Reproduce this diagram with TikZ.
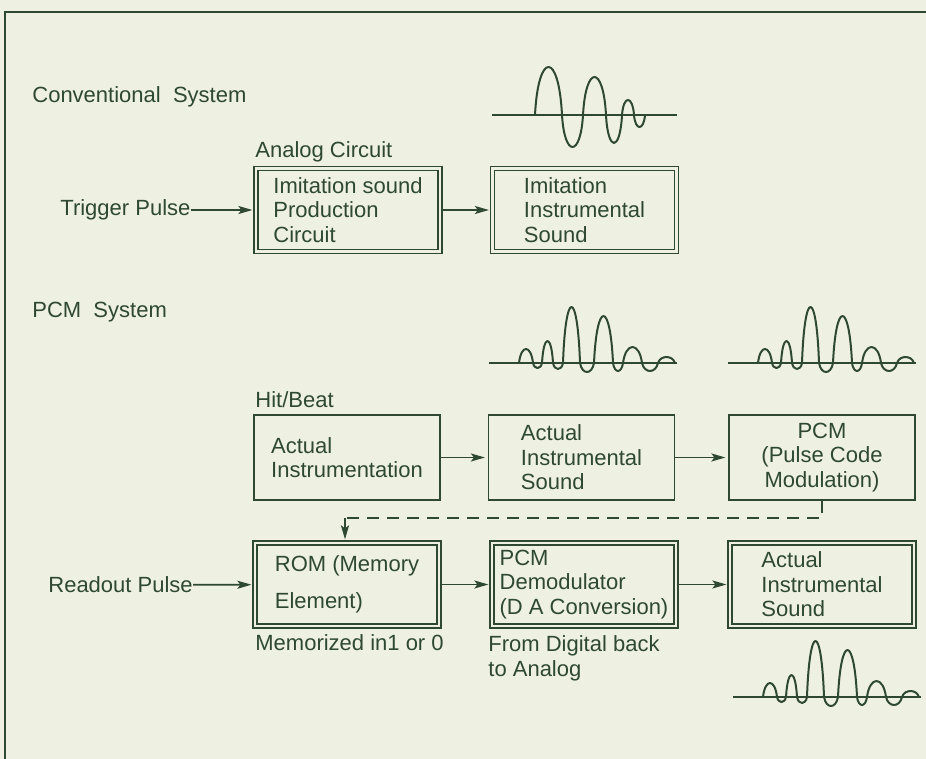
\documentclass[tikz,border=0pt]{standalone}
\usepackage{fontspec}
\setmainfont{Liberation Sans}
\usepackage{xcolor}
\usetikzlibrary{positioning,arrows.meta}
\definecolor{ink}{HTML}{2E4832}
\definecolor{paper}{HTML}{EEF1E1}

\tikzset{
	lbl/.style={anchor=west,inner sep=0pt,text=ink,font=\fontsize{11}{12.5}\selectfont},
	blk/.style={draw=ink,line width=0.6pt,minimum width=93pt,minimum height=42.5pt,
		inner sep=3pt,align=left,text=ink,font=\fontsize{11}{12.2}\selectfont},
	dblk/.style={blk,double=paper,double distance=1.4pt,minimum width=92pt,minimum height=41.5pt},
	flow/.style={draw=ink,line width=0.9pt,-{Stealth[length=7pt,width=4pt,inset=1.5pt]},shorten >=1.5pt},
	dashline/.style={draw=ink,line width=1.1pt,dash pattern=on 6pt off 4pt},
	wave/.style={draw=ink,line width=1pt,line join=round},
	pcm wave/.pic={
		\draw[ink,line width=0.7pt] (0,0) -- (188,0);
		\draw[wave] (30,0)
			\foreach \a/\b/\h in {30/44/-14,44/53/5,53/64/-22,64/74/6,74/91/-56,91/105/9,
				105/124/-47,124/134/8,134/153/-16,153/169/8,169/186/-6}
			{ .. controls ({\a+0.15*(\b-\a)},{1.333*\h}) and ({\b-0.15*(\b-\a)},{1.333*\h}) .. (\b,0) };
	}
}

\begin{document}
\begin{tikzpicture}[x=0.5pt,y=-0.5pt]
	\fill[paper] (0,0) rectangle (926,759);
	\useasboundingbox (0,0) rectangle (926,759);
	% frame
	\draw[ink,line width=1.4pt] (5,759) -- (5,12) -- (926,12);

	% conventional system
	\node[lbl] (conv) at (32,97) {Conventional\ \ System};
	\node[lbl] (analog) at (255,152) {Analog Circuit};
	\node[dblk] (imit) at (348,210) {Imitation sound\\Production\\Circuit};
	\node[dblk] (imitsnd) at (584.5,210) {Imitation\\Instrumental\\Sound};
	\node[lbl] (trig) at (60,210) {Trigger Pulse};
	\draw[flow] (trig) -- (imit);
	\draw[flow] (imit) -- (imitsnd);

	\draw[ink,line width=0.7pt] (492,115) -- (677,115);
	\draw[wave] (535,115)
		\foreach \a/\b/\h in {535/562/-48,562/583/32,583/606/-38,606/622/28,622/634/-15,634/645/12}
		{ .. controls ({\a+0.12*(\b-\a)},{115+1.333*\h}) and ({\b-0.12*(\b-\a)},{115+1.333*\h}) .. (\b,115) };

	% pcm system
	\node[lbl] (pcmsys) at (32,312) {PCM\ \ System};
	\pic at (489,363) {pcm wave};
	\pic at (728,363) {pcm wave};
	\pic at (733,697) {pcm wave};

	\node[lbl] (hit) at (255,400) {Hit/Beat};
	\node[blk] (instr) at (347,457.5) {Actual\\Instrumentation};
	\node[blk] (actsnd) at (581.5,457.5) {Actual\\Instrumental\\Sound};
	\node[blk,align=center] (pcm) at (822,457.5) {PCM\\(Pulse Code\\Modulation)};
	\draw[flow] (instr) -- (actsnd);
	\draw[flow] (actsnd) -- (pcm);

	\node[dblk] (rom) at (347,584.5) {ROM (Memory\\[6pt]Element)};
	\node[dblk] (demod) at (584,584.5) {PCM\\Demodulator\\(D A Conversion)};
	\node[dblk] (outsnd) at (822,584.5) {Actual\\Instrumental\\Sound};
	\node[lbl] (readout) at (48,585) {Readout Pulse};
	\draw[flow] (readout) -- (rom);
	\draw[flow] (rom) -- (demod);
	\draw[flow] (demod) -- (outsnd);

	% stored PCM data into ROM
	\coordinate (tap) at (345,518);
	\draw[dashline] (pcm.south) |- (tap);
	\draw[flow,line width=1.1pt] (tap) -- (tap |- rom.north);

	\node[lbl] (memo) at (255,643) {Memorized in1 or 0};
	\node[lbl,anchor=north west,align=left] (back) at (488,635) {From Digital back\\to Analog};
\end{tikzpicture}
\end{document}
